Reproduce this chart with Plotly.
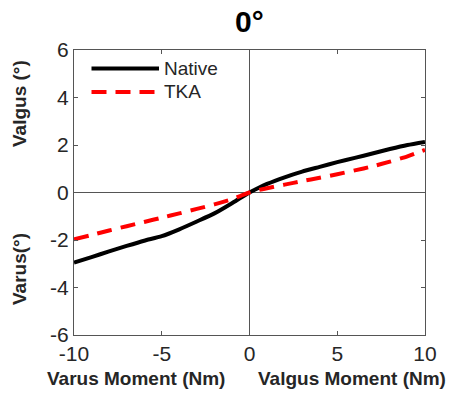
import plotly.graph_objects as go

# Valgus/varus rotation versus applied moment at 0° flexion
moment = [-10, -9, -8, -7, -6, -5, -4, -3, -2, -1, -0.5, 0, 0.5, 1, 2, 3, 4, 5, 6, 7, 8, 9, 10]
native = [-2.95, -2.72, -2.48, -2.25, -2.03, -1.84, -1.55, -1.22, -0.88, -0.45, -0.22, 0.0,
          0.19, 0.36, 0.64, 0.88, 1.08, 1.28, 1.46, 1.64, 1.83, 2.00, 2.13]
tka = [-1.97, -1.79, -1.60, -1.42, -1.24, -1.06, -0.88, -0.69, -0.50, -0.28, -0.14, 0.0,
       0.10, 0.18, 0.33, 0.48, 0.62, 0.77, 0.93, 1.10, 1.30, 1.52, 1.80]

x_ticks = [-10, -5, 0, 5, 10]
y_ticks = [-6, -4, -2, 0, 2, 4, 6]

TXT = "#262626"
FONT = "Liberation Sans, Arial, sans-serif"

fig = go.Figure()
fig.add_trace(go.Scatter(x=moment, y=native, mode="lines", name="Native",
                         line=dict(color="black", width=4, shape="spline", smoothing=0.6)))
fig.add_trace(go.Scatter(x=moment, y=tka, mode="lines", name="TKA",
                         line=dict(color="#ff0000", width=4, dash="15px,9px",
                                   shape="spline", smoothing=0.6)))

axis_common = dict(showgrid=False, zeroline=True, zerolinecolor="#555555", zerolinewidth=1,
                   showline=True, linecolor="#555555", linewidth=1, mirror="ticks",
                   ticks="inside", ticklen=4, tickcolor="#555555",
                   tickfont=dict(family=FONT, size=21, color=TXT))

fig.update_layout(
    width=452, height=398,
    margin=dict(l=74, r=27, t=50, b=63),
    paper_bgcolor="white", plot_bgcolor="white",
    showlegend=False,
    xaxis=dict(range=[-10, 10], tickvals=x_ticks, ticktext=[str(v) for v in x_ticks], **axis_common),
    yaxis=dict(range=[-6, 6], tickvals=y_ticks, ticktext=[str(v) for v in y_ticks], **axis_common),
)

# Legend drawn in paper space
legend_items = [("Native", dict(color="black", width=4), 0.935),
                ("TKA", dict(color="#ff0000", width=4, dash="15px,9px"), 0.853)]
for label, ln, yp in legend_items:
    fig.add_shape(type="line", xref="paper", yref="paper",
                  x0=(91.5 - 74) / 351, x1=(159 - 74) / 351, y0=yp, y1=yp, line=ln)
    fig.add_annotation(xref="paper", yref="paper", x=(162 - 74) / 351, y=yp,
                       text=label, showarrow=False, xanchor="left", yanchor="middle",
                       font=dict(family=FONT, size=19, color=TXT))

# Title and axis captions
fig.add_annotation(xref="paper", yref="paper", x=0.5, y=1, yshift=29, text="<b>0°</b>",
                   showarrow=False, xanchor="center", yanchor="middle",
                   font=dict(family=FONT, size=30, color="black"))
fig.add_annotation(xref="paper", yref="paper", x=0, xshift=-29, y=0, yshift=-43,
                   text="<b>Varus Moment (Nm)</b>", showarrow=False,
                   xanchor="left", yanchor="middle",
                   font=dict(family=FONT, size=19, color=TXT))
fig.add_annotation(xref="paper", yref="paper", x=1, xshift=23, y=0, yshift=-43,
                   text="<b>Valgus Moment (Nm)</b>", showarrow=False,
                   xanchor="right", yanchor="middle",
                   font=dict(family=FONT, size=19, color=TXT))
fig.add_annotation(xref="paper", yref="paper", x=0, xshift=-55, y=(335 - 104) / 285,
                   text="<b>Valgus (°)</b>", showarrow=False, textangle=-90,
                   xanchor="center", yanchor="middle",
                   font=dict(family=FONT, size=19, color=TXT))
fig.add_annotation(xref="paper", yref="paper", x=0, xshift=-55, y=(335 - 269) / 285,
                   text="<b>Varus(°)</b>", showarrow=False, textangle=-90,
                   xanchor="center", yanchor="middle",
                   font=dict(family=FONT, size=19, color=TXT))

fig.write_html("out.html")
